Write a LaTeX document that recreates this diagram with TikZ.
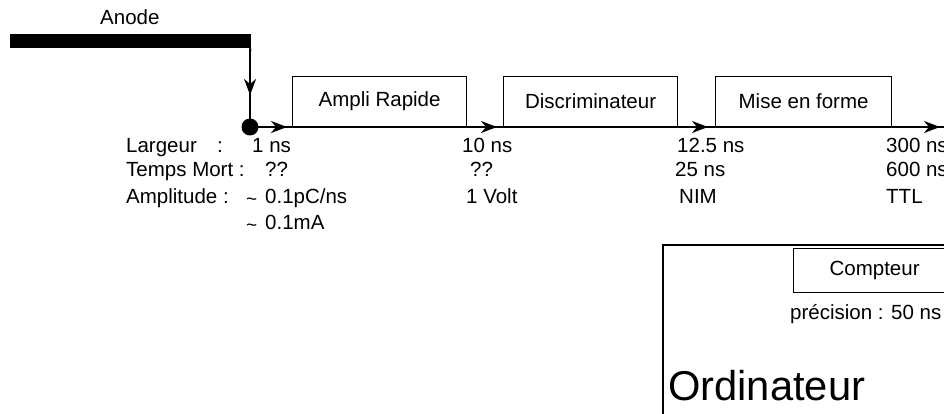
\documentclass[tikz,border=0pt]{standalone}
\usepackage{fontspec}
\setmainfont{Liberation Sans}
\usetikzlibrary{arrows.meta}
\newcommand{\smtil}{{\fontsize{19}{19}\selectfont\raisebox{-2.5pt}{\textasciitilde}}}
\begin{document}
\begin{tikzpicture}[x=1pt,y=-1pt,
  txt/.style={anchor=base west, inner sep=0pt, font=\fontsize{20.5}{24}\selectfont},
  blk/.style={draw, line width=1.2pt, minimum height=50pt, inner sep=0pt, anchor=south west, font=\fontsize{20.5}{24}\selectfont},
  sig/.style={line width=1.8pt},
  arr/.style={-{Stealth[length=16pt,width=12pt,inset=5pt]}}
]
\useasboundingbox (0,0) rectangle (944,414);
\clip (0,0) rectangle (944,414);

% anode bar and dot
\node[fill, inner sep=0pt, minimum width=241pt, minimum height=14pt, anchor=north east] (bar) at (251,34) {};
\node[txt] (anode) at (100,25) {Anode};
\node[circle, fill, inner sep=0pt, minimum size=17pt] (dot) at (250,127) {};

% blocks
\node[blk, minimum width=174pt] (amp) at (292,127) {Ampli Rapide};
\node[blk, minimum width=174pt] (disc) at (503,127) {Discriminateur};
\node[blk, minimum width=176pt] (mise) at (715,127) {Mise en forme};
\coordinate (end) at (944,127);

% connectors
\draw[sig] ([xshift=-0.9pt]bar.south east) -- (dot.center);
\draw[sig,arr,shorten >=32pt] ([xshift=-0.9pt]bar.south east) -- (dot.center);
\draw[sig] (dot.center) -- (amp.south west);
\draw[sig,arr,shorten >=5pt] (dot.center) -- (amp.south west);
\draw[sig] (amp.south west) -- (amp.south east);
\draw[sig] (amp.south east) -- (disc.south west);
\draw[sig,arr,shorten >=6pt] (amp.south east) -- (disc.south west);
\draw[sig] (disc.south west) -- (disc.south east);
\draw[sig] (disc.south east) -- (mise.south west);
\draw[sig,arr,shorten >=7pt] (disc.south east) -- (mise.south west);
\draw[sig] (mise.south west) -- (mise.south east);
\draw[sig] (mise.south east) -- (end);
\draw[sig,arr,shorten >=4pt] (mise.south east) -- (end);

% labels column 0
\node[txt] (l1) at (126,153) {Largeur};
\node[txt] (l1c) at (217,153) {:};
\node[txt] (l2) at (126,177) {Temps Mort :};
\node[txt] (l3) at (126,203) {Amplitude :};

% column 1
\node[txt] (a1) at (252,153) {1 ns};
\node[txt] (a2) at (265,177) {??};
\node[txt] (a3t) at (246,203) {\smtil};
\node[txt] (a3) at (265,203) {0.1pC/ns};
\node[txt] (a4t) at (246,229) {\smtil};
\node[txt] (a4) at (265,229) {0.1mA};

% column 2
\node[txt] (b1) at (462,153) {10 ns};
\node[txt] (b2) at (470,177) {??};
\node[txt] (b3) at (466,203) {1 Volt};

% column 3
\node[txt] (c1) at (677,153) {12.5 ns};
\node[txt] (c2) at (675,177) {25 ns};
\node[txt] (c3) at (679,203) {NIM};

% column 4
\node[txt] (d1) at (886,153) {300 ns};
\node[txt] (d2) at (886,177) {600 ns};
\node[txt] (d3) at (886,203) {TTL};

% ordinateur
\draw[line width=1.3pt] (663,460) coordinate (ordbl) -- (663,245) -- (1000,245);
\node[blk, minimum width=162pt, minimum height=44pt, anchor=north west] (cpt) at (793,248) {Compteur};
\node[txt] (prec) at (790,319) {précision : 50 ns};
\node[anchor=base west, inner sep=0pt, font=\fontsize{41.7}{48}\selectfont] (ord) at (668,400) {Ordinateur};
\end{tikzpicture}
\end{document}
